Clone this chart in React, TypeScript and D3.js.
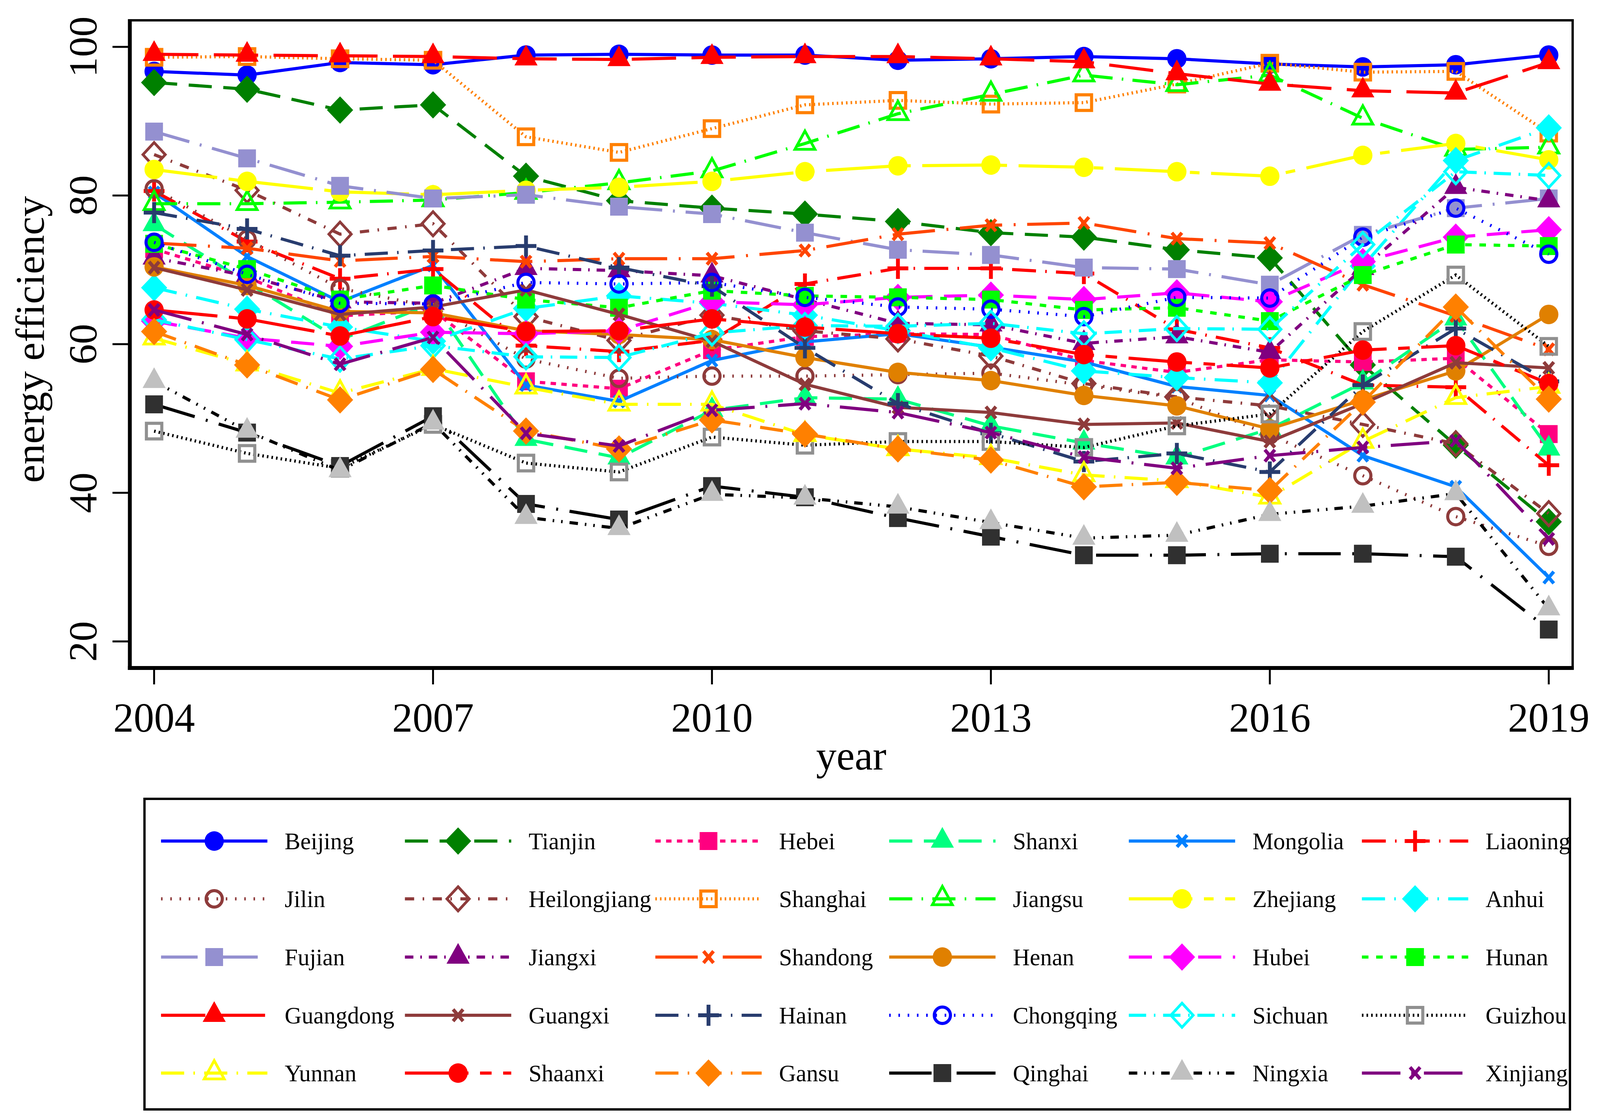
import { useEffect, useRef } from 'react';
import * as d3 from 'd3';

// chart data
const years = [2004, 2005, 2006, 2007, 2008, 2009, 2010, 2011, 2012, 2013, 2014, 2015, 2016, 2017, 2018, 2019];
const xTicks = [2004, 2007, 2010, 2013, 2016, 2019];
const yTicks = [20, 40, 60, 80, 100];

const beijing = [96.7, 96.2, 97.9, 97.6, 98.9, 99.0, 98.9, 98.9, 98.2, 98.4, 98.7, 98.4, 97.7, 97.3, 97.6, 98.9];
const tianjin = [95.2, 94.3, 91.5, 92.2, 82.6, 79.3, 78.3, 77.5, 76.5, 75.0, 74.4, 72.7, 71.6, 57.2, 46.4, 36.1];
const hebei = [72.8, 69.0, 63.8, 64.5, 55.0, 54.0, 59.2, 61.0, 61.4, 61.3, 57.8, 56.2, 57.9, 57.6, 58.1, 47.9];
const shanxi = [76.1, 68.3, 60.6, 65.5, 47.2, 44.7, 51.1, 52.8, 52.6, 49.0, 46.7, 44.7, 48.6, 54.8, 63.4, 45.9];
const mongolia = [80.4, 71.8, 65.7, 70.6, 54.5, 52.3, 57.8, 60.3, 61.4, 59.6, 57.6, 54.3, 53.1, 45.0, 40.8, 28.6];
const liaoning = [80.6, 73.8, 68.8, 70.1, 59.8, 59.0, 60.5, 68.1, 70.2, 70.2, 69.5, 62.0, 59.5, 54.5, 54.2, 43.7];
const jilin = [80.9, 74.1, 67.5, 65.0, 58.0, 55.4, 55.7, 55.7, 55.9, 56.1, 54.5, 52.8, 47.8, 42.3, 36.8, 32.8];
const heilongjiang = [85.5, 80.7, 74.8, 76.2, 63.7, 60.5, 63.9, 61.8, 60.7, 58.4, 54.7, 52.9, 51.7, 49.2, 46.6, 37.2];
const shanghai = [98.6, 98.7, 98.4, 98.2, 87.9, 85.8, 89.0, 92.2, 92.8, 92.3, 92.5, 95.0, 97.8, 96.6, 96.7, 88.4];
const jiangsu = [78.9, 78.9, 79.1, 79.4, 80.4, 81.7, 83.3, 87.0, 91.0, 93.6, 96.2, 94.9, 96.2, 90.4, 86.2, 86.5];
const zhejiang = [83.5, 81.9, 80.5, 80.1, 80.7, 81.1, 81.9, 83.2, 84.0, 84.1, 83.8, 83.2, 82.6, 85.4, 87.0, 84.8];
const anhui = [67.6, 64.7, 62.3, 60.4, 64.8, 66.5, 65.5, 63.9, 61.8, 59.5, 56.4, 55.5, 54.8, 70.5, 84.7, 89.1];
const fujian = [88.6, 85.0, 81.3, 79.6, 80.1, 78.5, 77.5, 75.0, 72.7, 72.0, 70.3, 70.1, 68.0, 74.7, 78.3, 79.6];
const jiangxi = [71.6, 69.2, 65.7, 65.5, 70.2, 69.9, 69.2, 66.0, 62.8, 62.6, 60.1, 61.0, 58.9, 70.2, 81.1, 79.3];
const shandong = [73.6, 72.9, 71.2, 71.8, 71.1, 71.5, 71.5, 72.6, 74.8, 76.0, 76.3, 74.2, 73.6, 68.0, 63.8, 59.3];
const henan = [70.4, 67.9, 64.4, 64.2, 61.8, 61.3, 60.6, 58.2, 56.2, 55.1, 53.1, 51.7, 48.6, 52.5, 56.4, 64.0];
const hubei = [63.1, 60.8, 59.7, 61.6, 61.4, 61.8, 65.7, 65.3, 66.3, 66.6, 66.0, 66.9, 65.7, 71.1, 74.4, 75.4];
const hunan = [73.5, 70.1, 66.0, 67.9, 66.0, 64.9, 67.2, 66.5, 66.3, 66.0, 64.6, 64.9, 63.1, 69.3, 73.4, 73.2];
const guangdong = [99.0, 98.9, 98.8, 98.7, 98.4, 98.3, 98.6, 98.7, 98.7, 98.4, 98.0, 96.4, 95.0, 94.1, 93.8, 97.9];
const guangxi = [70.3, 67.3, 64.0, 65.0, 67.3, 64.0, 60.4, 54.6, 51.5, 50.8, 49.2, 49.4, 46.9, 52.0, 57.5, 56.8];
const hainan = [77.7, 75.5, 71.9, 72.6, 73.2, 70.3, 67.8, 59.5, 52.0, 48.0, 44.2, 45.3, 42.8, 54.5, 62.1, 55.0];
const chongqing = [73.7, 69.4, 65.5, 65.4, 68.3, 68.1, 68.3, 66.3, 65.0, 64.7, 63.7, 66.3, 66.2, 74.4, 78.3, 72.1];
const sichuan = [63.3, 60.6, 58.0, 59.8, 58.3, 58.2, 61.5, 62.5, 62.4, 62.8, 61.4, 62.1, 62.0, 73.4, 83.2, 82.7];
const guizhou = [48.3, 45.3, 43.3, 49.2, 44.0, 42.8, 47.5, 46.4, 46.9, 46.9, 46.1, 49.0, 50.6, 61.7, 69.3, 59.7];
const yunnan = [60.8, 57.3, 53.4, 56.7, 54.2, 51.9, 51.9, 47.8, 45.9, 44.7, 42.4, 41.6, 39.4, 46.9, 52.8, 54.3];
const shaanxi = [64.6, 63.4, 61.1, 63.7, 61.7, 61.8, 63.4, 62.3, 61.4, 60.8, 58.6, 57.6, 56.8, 59.2, 59.8, 54.7];
const gansu = [61.7, 57.2, 52.5, 56.6, 48.3, 45.9, 49.8, 47.9, 45.9, 44.4, 40.8, 41.4, 40.3, 52.2, 65.0, 52.6];
const qinghai = [51.9, 48.1, 43.6, 50.3, 38.5, 36.4, 40.9, 39.4, 36.6, 34.1, 31.6, 31.6, 31.8, 31.8, 31.4, 21.6];
const ningxia = [55.0, 48.3, 43.0, 49.4, 36.7, 35.2, 39.8, 39.3, 38.1, 36.0, 33.9, 34.3, 37.1, 38.2, 39.9, 24.4];
const xinjiang = [64.6, 61.3, 57.3, 60.9, 48.0, 46.3, 51.1, 52.0, 50.8, 48.1, 44.8, 43.3, 45.0, 46.1, 47.0, 33.8];

type Marker = 'circle' | 'circleH' | 'diamond' | 'diamondH' | 'square' | 'squareH' | 'triangle' | 'triangleH' | 'plus' | 'x';

interface Series {
    name: string;
    values: number[];
    color: string;
    dash: number[] | null;
    marker: Marker;
    markerColor?: string;
}

const BROWN = '#8E3B3B';
const DASHDOT = [60, 24, 4, 24];
const LONGDASHDOT = [110, 30, 5, 30];

// draw order = legend order (later series on top)
const SERIES: Series[] = [
    { name: 'Beijing', values: beijing, color: '#0000FF', dash: null, marker: 'circle' },
    { name: 'Tianjin', values: tianjin, color: '#008000', dash: [60, 30], marker: 'diamond' },
    { name: 'Hebei', values: hebei, color: '#FF0080', dash: [14, 14], marker: 'square' },
    { name: 'Shanxi', values: shanxi, color: '#00FF80', dash: [60, 30], marker: 'triangle' },
    { name: 'Mongolia', values: mongolia, color: '#0080FF', dash: null, marker: 'x' },
    { name: 'Liaoning', values: liaoning, color: '#FF0000', dash: [62, 24, 4, 24], marker: 'plus' },
    { name: 'Jilin', values: jilin, color: BROWN, dash: [4, 20], marker: 'circleH' },
    { name: 'Heilongjiang', values: heilongjiang, color: BROWN, dash: [24, 22, 4, 22], marker: 'diamondH' },
    { name: 'Shanghai', values: shanghai, color: '#FF8000', dash: [4, 8], marker: 'squareH' },
    { name: 'Jiangsu', values: jiangsu, color: '#00FF00', dash: DASHDOT, marker: 'triangleH' },
    { name: 'Zhejiang', values: zhejiang, color: '#FFFF00', dash: [165, 30, 25, 30], marker: 'circle' },
    { name: 'Anhui', values: anhui, color: '#00FFFF', dash: DASHDOT, marker: 'diamond' },
    { name: 'Fujian', values: fujian, color: '#9490D0', dash: [95, 28, 5, 28], marker: 'square' },
    { name: 'Jiangxi', values: jiangxi, color: '#800080', dash: [22, 18, 4, 18], marker: 'triangle' },
    { name: 'Shandong', values: shandong, color: '#FF4500', dash: LONGDASHDOT, marker: 'x' },
    { name: 'Henan', values: henan, color: '#E08000', dash: null, marker: 'circle' },
    { name: 'Hubei', values: hubei, color: '#FF00FF', dash: [60, 30], marker: 'diamond' },
    { name: 'Hunan', values: hunan, color: '#00FF00', dash: [17, 20], marker: 'square' },
    { name: 'Guangdong', values: guangdong, color: '#FF0000', dash: [115, 40], marker: 'triangle' },
    { name: 'Guangxi', values: guangxi, color: BROWN, dash: null, marker: 'x' },
    { name: 'Hainan', values: hainan, color: '#283C6E', dash: DASHDOT, marker: 'plus' },
    { name: 'Chongqing', values: chongqing, color: '#0000FF', dash: [4, 20], marker: 'circleH' },
    { name: 'Sichuan', values: sichuan, color: '#00FFFF', dash: [45, 20, 4, 20], marker: 'diamondH' },
    { name: 'Guizhou', values: guizhou, color: '#000000', dash: [4, 8], marker: 'squareH', markerColor: '#909090' },
    { name: 'Yunnan', values: yunnan, color: '#FFFF00', dash: DASHDOT, marker: 'triangleH' },
    { name: 'Shaanxi', values: shaanxi, color: '#FF0000', dash: [165, 30, 30, 30], marker: 'circle' },
    { name: 'Gansu', values: gansu, color: '#FF8000', dash: DASHDOT, marker: 'diamond' },
    { name: 'Qinghai', values: qinghai, color: '#000000', dash: LONGDASHDOT, marker: 'square', markerColor: '#303030' },
    { name: 'Ningxia', values: ningxia, color: '#000000', dash: [22, 18, 4, 18, 4, 18], marker: 'triangle', markerColor: '#C0C0C0' },
    { name: 'Xinjiang', values: xinjiang, color: '#800080', dash: [100, 28, 5, 28], marker: 'x' },
];

const W = 4153;
const H = 2862;
const FONT = '"Liberation Serif", "Times New Roman", serif';

// plot box
const BOX = { left: 337, right: 4082, top: 52, bottom: 1710 };
// legend box
const LEG = { left: 375, right: 4075, top: 2045, bottom: 2840 };
const LEG_COLS = [418, 1051, 1701, 2308, 2930, 3535];
const LEG_ROWS = [2153, 2301, 2450, 2599, 2747];

function drawMarker(
    g: d3.Selection<SVGGElement, unknown, null, undefined>,
    kind: Marker,
    color: string,
    x: number,
    y: number
) {
    switch (kind) {
        case 'circle':
            g.append('circle').attr('cx', x).attr('cy', y).attr('r', 25).attr('fill', color);
            break;
        case 'circleH':
            g.append('circle').attr('cx', x).attr('cy', y).attr('r', 21)
                .attr('fill', 'none').attr('stroke', color).attr('stroke-width', 8);
            break;
        case 'diamond':
            g.append('path').attr('d', `M${x},${y - 35}L${x + 34},${y}L${x},${y + 35}L${x - 34},${y}Z`)
                .attr('fill', color);
            break;
        case 'diamondH':
            g.append('path').attr('d', `M${x},${y - 31}L${x + 29},${y}L${x},${y + 31}L${x - 29},${y}Z`)
                .attr('fill', 'none').attr('stroke', color).attr('stroke-width', 7);
            break;
        case 'square':
            g.append('rect').attr('x', x - 23).attr('y', y - 23).attr('width', 46).attr('height', 46)
                .attr('fill', color);
            break;
        case 'squareH':
            g.append('rect').attr('x', x - 20).attr('y', y - 20).attr('width', 40).attr('height', 40)
                .attr('fill', 'none').attr('stroke', color).attr('stroke-width', 8);
            break;
        case 'triangle':
            g.append('path').attr('d', `M${x},${y - 36}L${x + 30},${y + 17}L${x - 30},${y + 17}Z`)
                .attr('fill', color);
            break;
        case 'triangleH':
            g.append('path').attr('d', `M${x},${y - 32}L${x + 26},${y + 15}L${x - 26},${y + 15}Z`)
                .attr('fill', 'none').attr('stroke', color).attr('stroke-width', 7);
            break;
        case 'plus':
            g.append('path').attr('d', `M${x - 27},${y}H${x + 27}M${x},${y - 27}V${y + 27}`)
                .attr('stroke', color).attr('stroke-width', 10).attr('fill', 'none');
            break;
        case 'x':
            g.append('path').attr('d', `M${x - 13},${y - 15}L${x + 13},${y + 15}M${x + 13},${y - 15}L${x - 13},${y + 15}`)
                .attr('stroke', color).attr('stroke-width', 9).attr('fill', 'none');
            break;
    }
}

export default function App() {
    const svgRef = useRef<SVGSVGElement>(null);

    useEffect(() => {
        if (!svgRef.current) return;
        const svg = d3.select(svgRef.current);
        svg.selectAll('*').remove();

        svg.append('rect').attr('width', W).attr('height', H).attr('fill', '#fff');

        const x = d3.scaleLinear().domain([2004, 2019]).range([400, 4020]);
        const y = d3.scaleLinear().domain([20, 100]).range([1642, 120]);

        // plot region frame
        svg.append('rect')
            .attr('x', BOX.left).attr('y', BOX.top)
            .attr('width', BOX.right - BOX.left).attr('height', BOX.bottom - BOX.top)
            .attr('fill', 'none').attr('stroke', '#000').attr('stroke-width', 6);

        // y axis
        const yAxis = svg.append('g').attr('transform', `translate(${BOX.left},0)`);
        yAxis.append('line').attr('y1', BOX.top - 3).attr('y2', BOX.bottom + 5)
            .attr('stroke', '#000').attr('stroke-width', 10);
        yTicks.forEach((t) => {
            yAxis.append('line').attr('x1', -45).attr('x2', 0).attr('y1', y(t)).attr('y2', y(t))
                .attr('stroke', '#000').attr('stroke-width', 5);
            yAxis.append('text')
                .attr('transform', `translate(${250 - BOX.left},${y(t)}) rotate(-90)`)
                .attr('text-anchor', 'middle')
                .attr('font-family', FONT).attr('font-size', 104)
                .text(t);
        });

        // x axis
        const xAxis = svg.append('g').attr('transform', `translate(0,${BOX.bottom})`);
        xAxis.append('line').attr('x1', BOX.left - 5).attr('x2', BOX.right + 3)
            .attr('stroke', '#000').attr('stroke-width', 10);
        xTicks.forEach((t) => {
            xAxis.append('line').attr('x1', x(t)).attr('x2', x(t)).attr('y1', 0).attr('y2', 42)
                .attr('stroke', '#000').attr('stroke-width', 5);
            xAxis.append('text')
                .attr('x', x(t)).attr('y', 1873 - BOX.bottom)
                .attr('text-anchor', 'middle')
                .attr('font-family', FONT).attr('font-size', 106)
                .text(t);
        });

        // axis titles
        svg.append('text')
            .attr('x', (BOX.left + BOX.right) / 2).attr('y', 1970)
            .attr('text-anchor', 'middle')
            .attr('font-family', FONT).attr('font-size', 106)
            .text('year');
        svg.append('text')
            .attr('transform', `translate(114,${(BOX.top + BOX.bottom) / 2 - 12}) rotate(-90)`)
            .attr('text-anchor', 'middle')
            .attr('font-family', FONT).attr('font-size', 106)
            .text('energy efficiency');

        // series
        const line = d3.line<number>()
            .x((_, i) => x(years[i]))
            .y((d) => y(d));

        SERIES.forEach((s) => {
            const g = svg.append('g');
            g.append('path')
                .attr('d', line(s.values))
                .attr('fill', 'none')
                .attr('stroke', s.color)
                .attr('stroke-width', 8)
                .attr('stroke-dasharray', s.dash ? s.dash.join(',') : null);
            s.values.forEach((v, i) => drawMarker(g, s.marker, s.markerColor ?? s.color, x(years[i]), y(v)));
        });

        // legend
        svg.append('rect')
            .attr('x', LEG.left).attr('y', LEG.top)
            .attr('width', LEG.right - LEG.left).attr('height', LEG.bottom - LEG.top)
            .attr('fill', 'none').attr('stroke', '#000').attr('stroke-width', 6);

        SERIES.forEach((s, i) => {
            const cx = LEG_COLS[i % 6];
            const cy = LEG_ROWS[Math.floor(i / 6)];
            const g = svg.append('g');
            g.append('line')
                .attr('x1', cx).attr('x2', cx + 276).attr('y1', cy).attr('y2', cy)
                .attr('stroke', s.color).attr('stroke-width', 8)
                .attr('stroke-dasharray', s.dash ? s.dash.join(',') : null);
            drawMarker(g, s.marker, s.markerColor ?? s.color, cx + 138, cy);
            g.append('text')
                .attr('x', cx + 321).attr('y', cy + 21)
                .attr('font-family', FONT).attr('font-size', 61)
                .text(s.name);
        });
    }, []);

    return (
        <svg
            ref={svgRef}
            viewBox={`0 0 ${W} ${H}`}
            preserveAspectRatio="none"
            style={{ position: 'fixed', left: 0, top: 0, width: '100%', height: '100%', display: 'block' }}
        />
    );
}
